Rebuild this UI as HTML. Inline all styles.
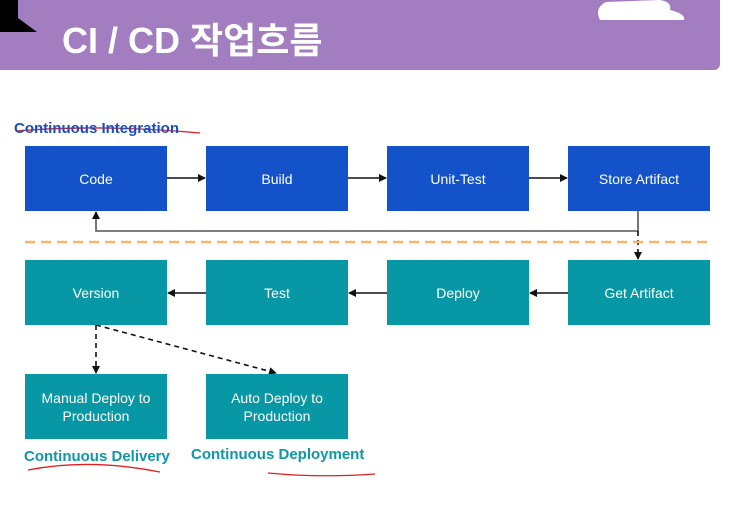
<!DOCTYPE html>
<html><head><meta charset="utf-8"><style>
body{margin:0;width:743px;height:516px;background:#fff;position:relative;overflow:hidden;font-family:"Liberation Sans",sans-serif}
.b{position:absolute;width:142px;height:65px;color:#fff;font-size:14px;display:flex;align-items:center;justify-content:center;text-align:center;line-height:18px}
.bl{background:#1352c8}.tl{background:#0897a4}
.lab{position:absolute;font-weight:bold;font-size:15px}
</style></head><body>
<div style="position:absolute;left:0;top:0;width:720px;height:70px;background:#a27dc0;border-bottom-right-radius:6px"></div>
<svg style="position:absolute;left:0;top:0" width="743" height="516">
<polygon points="0,0 18,0 18,18 37,32 0,32" fill="#000"/>
<path d="M600,20 Q594,8 606,2 L660,0 Q672,2 670,10 Q686,14 684,20 Z" fill="#fff"/>
<path d="M722,36 L743,22 M722,40 L743,30" stroke="#fff" stroke-width="2"/>
<path d="M16,131 Q100,124 200,133" stroke="#d22" stroke-width="1.3" fill="none"/>
<path d="M28,470 Q90,458 160,472" stroke="#d22" stroke-width="1.3" fill="none"/>
<path d="M268,473 Q320,478 375,474" stroke="#d22" stroke-width="1.3" fill="none"/>
<defs><marker id="a" markerWidth="8" markerHeight="8" refX="7" refY="4" orient="auto" markerUnits="userSpaceOnUse"><path d="M0,0 L8,4 L0,8 Z" fill="#111"/></marker></defs>
<g stroke="#111" stroke-width="1.6" fill="none">
<line x1="167" y1="178" x2="205" y2="178" marker-end="url(#a)"/>
<line x1="348" y1="178" x2="386" y2="178" marker-end="url(#a)"/>
<line x1="529" y1="178" x2="567" y2="178" marker-end="url(#a)"/>
<line x1="568" y1="293" x2="530" y2="293" marker-end="url(#a)"/>
<line x1="387" y1="293" x2="349" y2="293" marker-end="url(#a)"/>
<line x1="206" y1="293" x2="168" y2="293" marker-end="url(#a)"/>
<polyline points="638,211 638,231 96,231 96,212" stroke="#555" marker-end="url(#a)"/>
<line x1="638" y1="231" x2="638" y2="259" stroke-dasharray="5,4" marker-end="url(#a)"/>
<line x1="96" y1="325" x2="96" y2="373" stroke-dasharray="5,4" marker-end="url(#a)"/>
<line x1="96" y1="325" x2="276" y2="373" stroke-dasharray="5,4" marker-end="url(#a)"/>
</g>
<line x1="25" y1="242" x2="710" y2="242" stroke="#f6b66a" stroke-width="2.5" stroke-dasharray="10,6"/>
</svg>
<div style="position:absolute;left:62px;top:12px;color:#fff;font-size:36px;font-weight:bold;font-family:'Liberation Sans','Noto Sans CJK KR',sans-serif">CI / CD 작업흐름</div>
<div class="lab" style="left:14px;top:120px;color:#1a4fc4">Continuous Integration</div>
<div class="b bl" style="left:25px;top:146px">Code</div>
<div class="b bl" style="left:206px;top:146px">Build</div>
<div class="b bl" style="left:387px;top:146px">Unit-Test</div>
<div class="b bl" style="left:568px;top:146px">Store Artifact</div>
<div class="b tl" style="left:25px;top:260px">Version</div>
<div class="b tl" style="left:206px;top:260px">Test</div>
<div class="b tl" style="left:387px;top:260px">Deploy</div>
<div class="b tl" style="left:568px;top:260px">Get Artifact</div>
<div class="b tl" style="left:25px;top:374px">Manual Deploy to<br>Production</div>
<div class="b tl" style="left:206px;top:374px">Auto Deploy to<br>Production</div>
<div class="lab" style="left:24px;top:448px;color:#0e97a6">Continuous Delivery</div>
<div class="lab" style="left:191px;top:446px;color:#0e97a6">Continuous Deployment</div>
</body></html>
